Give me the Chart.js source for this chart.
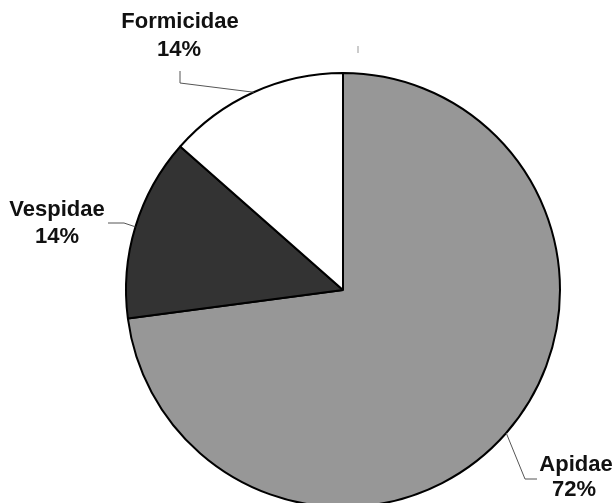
<!DOCTYPE html>
<html>
<head>
<meta charset="utf-8">
<script src="https://cdn.jsdelivr.net/npm/chart.js@4.4.0/dist/chart.umd.min.js"></script>
<style>
  html, body { margin: 0; padding: 0; background: #fff; }
  #wrap { width: 615px; height: 503px; }
</style>
</head>
<body>
<div id="wrap"><canvas id="pieChart"></canvas></div>
<script>
const families = ['Apidae', 'Vespidae', 'Formicidae'];
// slice sizes; printed labels as shown
const shares = [72.9, 13.6, 13.5];
const pctLabels = ['72%', '14%', '14%'];
const sliceColors = ['#979797', '#333333', '#ffffff'];

// label placement: elbow/end of the leader lines and text anchors
const labelSpots = [
  { elbow: [525, 479], end: [537, 479], text: [576, 465], pct: [574, 490] },
  { elbow: [124, 223], end: [108, 223], text: [57, 210], pct: [57, 237] },
  { elbow: [180, 83], end: [180, 71], text: [180, 22], pct: [179, 50] }
];

const pieLabels = {
  id: 'pieLabels',
  afterDatasetsDraw(chart) {
    const ctx = chart.ctx;
    const arcs = chart.getDatasetMeta(0).data;
    ctx.save();
    ctx.strokeStyle = '#555';
    ctx.lineWidth = 1;
    arcs.forEach((arc, i) => {
      const p = arc.getProps(['x', 'y', 'startAngle', 'endAngle', 'outerRadius'], true);
      const mid = (p.startAngle + p.endAngle) / 2;
      const sx = p.x + Math.cos(mid) * p.outerRadius;
      const sy = p.y + Math.sin(mid) * p.outerRadius;
      const s = labelSpots[i];
      ctx.beginPath();
      ctx.moveTo(sx, sy);
      ctx.lineTo(s.elbow[0], s.elbow[1]);
      ctx.lineTo(s.end[0], s.end[1]);
      ctx.stroke();

      ctx.fillStyle = '#111';
      ctx.font = 'bold 22px "Liberation Sans", Arial, sans-serif';
      ctx.textAlign = 'center';
      ctx.textBaseline = 'middle';
      ctx.fillText(families[i], s.text[0], s.text[1]);
      ctx.fillText(pctLabels[i], s.pct[0], s.pct[1]);
    });
    // stray tick above the pie
    ctx.strokeStyle = '#999';
    ctx.beginPath();
    ctx.moveTo(358, 46);
    ctx.lineTo(358, 53);
    ctx.stroke();
    ctx.restore();
  }
};

new Chart(document.getElementById('pieChart'), {
  type: 'pie',
  data: {
    labels: families,
    datasets: [{
      data: shares,
      backgroundColor: sliceColors,
      borderColor: '#000',
      borderWidth: 2,
      radius: 217
    }]
  },
  options: {
    responsive: true,
    maintainAspectRatio: false,
    animation: false,
    layout: { padding: { left: 71, right: 0, top: 77, bottom: 0 } },
    plugins: {
      legend: { display: false },
      tooltip: { enabled: false }
    }
  },
  plugins: [pieLabels]
});
</script>
</body>
</html>
